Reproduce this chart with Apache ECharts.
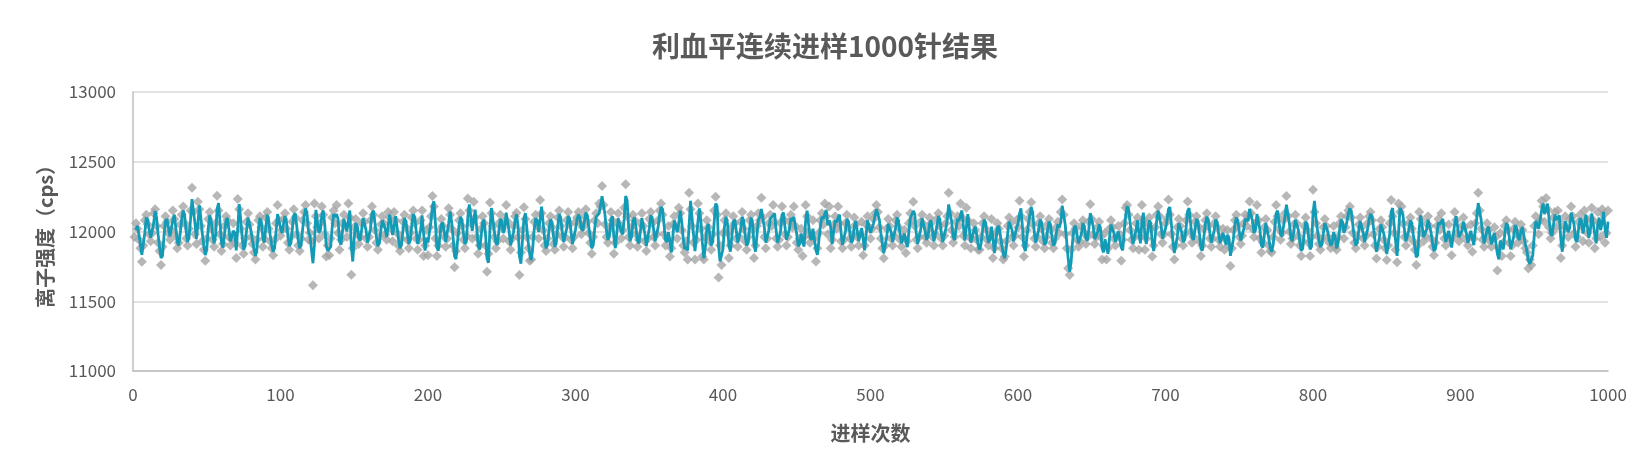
<!DOCTYPE html>
<html>
<head>
<meta charset="utf-8">
<script src="https://cdn.jsdelivr.net/npm/echarts@6/dist/echarts.min.js"></script>
<style>
  body { margin: 0; background: #fff; }
  #main { width: 1650px; height: 474px; }
</style>
</head>
<body>
<div id="main"></div>
<script>
// 离子强度 (cps)，每组100针
var run1 = [
  11960, 12060, 12020, 11940, 11880, 11784, 11900, 12080, 12120, 12050,
  11980, 11930, 11990, 12130, 12160, 12040, 11920, 11860, 11760, 11890,
  12040, 12110, 12070, 11990, 11940, 12010, 12150, 12090, 11970, 11880,
  11920, 12050, 12120, 12180, 12060, 11950, 11900, 12020, 12150, 12314,
  12140, 11980, 11910, 12214, 12160, 12040, 11930, 11870, 11791, 11950,
  12090, 12140, 12020, 11940, 11890, 12060, 12257, 12150, 11980, 11860,
  11910, 12040, 12110, 12080, 11960, 11900, 11950, 12060, 11920, 11810,
  12233, 12160, 12020, 11900, 11840, 11950, 12070, 12130, 12050, 11960,
  11910, 11850, 11800, 11940, 12080, 12110, 12030, 11890, 11950, 12100,
  12140, 12020, 11930, 11880, 11830, 11940, 12060, 12190, 12080, 11970
];
var run2 = [
  12010, 12090, 12130, 12020, 11920, 11870, 11960, 12070, 12160, 12100,
  11980, 11900, 11860, 11950, 12080, 12140, 12190, 12060, 11940, 11990,
  11930, 11615, 12200, 12110, 12030, 11950, 12060, 12180, 12120, 11980,
  11820, 11900, 11830, 11950, 12100, 12150, 12060, 12190, 11990, 11870,
  11940, 12060, 12120, 12040, 11960, 12200, 12100, 11690, 11880, 12030,
  12090, 11990, 11910, 11960, 12060, 12130, 12070, 11950, 11890, 11960,
  12080, 12180, 12120, 12010, 11920, 11870, 11960, 12050, 12110, 12060,
  11980, 11940, 12140, 12100, 12020, 11930, 12140, 12080, 11990, 11900,
  11860, 11950, 12070, 12120, 12030, 11940, 11880, 11990, 12100, 12150,
  12060, 11950, 11870, 11940, 12080, 12150, 11825, 11900, 12010, 11830
];
var run3 = [
  12030, 12110, 12254, 12180, 11950, 11825, 11900, 12010, 12090, 12040,
  11960, 11890, 11950, 12166, 12120, 12020, 11900, 11743, 11860, 11990,
  12080, 12130, 12040, 11940, 11880, 11970, 12237, 12150, 12060, 11950,
  12214, 12100, 11960, 11840, 11900, 12020, 12110, 12060, 11900, 11712,
  11840, 12207, 12130, 12040, 11960, 11880, 11930, 12060, 12120, 12030,
  11950, 12080, 12190, 12070, 11930, 11870, 11950, 12040, 12110, 12135,
  11960, 11688, 11850, 12010, 12173, 12090, 11960, 11880, 11790, 11800,
  11960, 12070, 12120, 12040, 11950, 12225, 12130, 12010, 11900, 11860,
  11950, 12060, 12110, 12030, 11910, 11870, 11980, 12100, 12150, 12040,
  11960, 11890, 11960, 12080, 12140, 12050, 11940, 11880, 11960, 12070
];
var run4 = [
  12100, 12140, 12060, 11980, 12030, 12110, 12160, 12070, 11990, 11920,
  11840, 11960, 12080, 12130, 12060, 12200, 12180, 12326, 12190, 12050,
  11960, 11920, 12020, 12140, 12080, 11840, 11920, 12060, 12130, 12050,
  11950, 12010, 12170, 12338, 12110, 11960, 11900, 12030, 12120, 12080,
  11980, 11890, 11940, 12060, 12130, 12040, 11930, 11860, 11950, 12090,
  12140, 12060, 11960, 11900, 11980, 12080, 12150, 12200, 12120, 11980,
  11900, 11950, 12040, 11820, 11880, 12050, 12110, 12040, 11950, 12170,
  12130, 12010, 11900, 11850, 11930, 11800, 12278, 12160, 12040, 11920,
  11800, 11940, 12200, 12130, 12020, 11820, 11800, 11960, 12080, 12030,
  11930, 11870, 11980, 12150, 12250, 12120, 11671, 11900, 11760, 11990
];
var run5 = [
  12080, 12130, 11990, 11810, 11900, 12030, 12110, 12060, 11950, 11890,
  11960, 12070, 12140, 12020, 11930, 11870, 11960, 12080, 12120, 12010,
  11810, 11900, 12040, 12130, 12080, 12242, 12100, 11960, 11880, 11950,
  12060, 12120, 12040, 12190, 12070, 11950, 11890, 11940, 12060, 12180,
  12090, 11980, 11900, 11960, 12070, 12120, 12030, 12180, 12040, 11920,
  11870, 11950, 12020, 11825, 11960, 12190, 12110, 12000, 11920, 11960,
  12080, 11950, 11785, 11880, 11990, 12080, 12130, 12050, 12200, 12110,
  11980, 12180, 11880, 11940, 12050, 12110, 12020, 12180, 12060, 11930,
  11880, 11940, 12060, 12120, 12030, 11950, 11890, 11980, 12100, 12050,
  11960, 11900, 11980, 12070, 11830, 11900, 12050, 12110, 12030, 11950
];
var run6 = [
  12020, 12090, 12130, 12190, 12140, 12030, 11950, 11880, 11808, 11900,
  12020, 12090, 12040, 11950, 11900, 11970, 12080, 12120, 12030, 11940,
  11890, 11960, 12010, 11845, 11930, 12060, 12130, 12080, 12214, 12040,
  11940, 11880, 11960, 12070, 12120, 12050, 11960, 11920, 12010, 12100,
  12060, 11960, 11900, 11980, 12090, 12130, 12040, 11950, 11900, 11970,
  12060, 12110, 12278, 12130, 12010, 11920, 11960, 12070, 12110, 12040,
  12200, 12100, 11970, 11900, 12170, 12080, 11960, 11880, 11950, 12060,
  12010, 11940, 11870, 11870, 11960, 12060, 12110, 12020, 11940, 11900,
  11980, 12090, 11810, 11880, 11990, 12060, 12020, 11930, 11880, 11800,
  11820, 11930, 12040, 12100, 12060, 11960, 11900, 11970, 12080, 12030
];
var run7 = [
  12220, 12110, 11960, 11820, 11900, 12010, 12090, 12140, 12210, 12050,
  11950, 11890, 11960, 12060, 12110, 12020, 11930, 11880, 11960, 12050,
  12090, 12010, 11920, 11880, 11950, 12030, 12070, 11990, 12140, 12230,
  12120, 11980, 11880, 11736, 11688, 11870, 11990, 12060, 12020, 11940,
  11890, 11930, 12040, 12080, 11990, 11910, 11960, 12070, 12195, 12090,
  11980, 11910, 11960, 12030, 12070, 11960, 11800, 11900, 11990, 11800,
  11880, 12020, 12080, 12030, 11950, 11900, 11960, 12040, 11980, 11790,
  11940, 12060, 12170, 12190, 12120, 12010, 11940, 11880, 11960, 12060,
  12100, 11870, 11960, 12190, 12080, 11870, 11950, 12060, 12100, 12020,
  11820, 11900, 12030, 12120, 12180, 12110, 11980, 11920, 11980, 12060
];
var run8 = [
  12090, 12230, 12120, 11980, 11890, 11800, 11900, 12030, 12090, 12040,
  11950, 11900, 11980, 12080, 12215, 12120, 12000, 11920, 11960, 12070,
  12110, 12040, 11930, 11825, 11900, 12020, 12080, 12130, 12040, 11950,
  11890, 11950, 12060, 12110, 12030, 11940, 11890, 11960, 12020, 11870,
  11940, 12010, 11900, 11752, 11880, 12010, 12080, 12120, 12040, 11960,
  11910, 11970, 12060, 12120, 12040, 12110, 12215, 12130, 12020, 11960,
  12060, 12190, 12080, 11950, 11850, 11920, 12030, 12090, 12010, 11900,
  11860, 11850, 11960, 12070, 12190, 12110, 12020, 11940, 11990, 12080,
  12130, 12255, 12110, 12000, 11910, 11950, 12050, 12120, 12060, 11970,
  11900, 11825, 11930, 12040, 12100, 12010, 11920, 11825, 11960, 12300
];
var run9 = [
  12140, 12060, 11970, 11910, 11870, 11940, 12030, 12090, 12040, 11960,
  11920, 11880, 11950, 12040, 11890, 11870, 11960, 12060, 12110, 12030,
  11950, 12030, 12110, 12150, 12180, 12100, 11990, 11920, 11880, 11960,
  12050, 12100, 12030, 11950, 11900, 11970, 12060, 12110, 12140, 12080,
  11980, 11900, 11807, 11890, 12020, 12080, 12030, 11940, 11880, 11795,
  11900, 12060, 12225, 12110, 11990, 11870, 11780, 12200, 12140, 12180,
  12060, 11960, 11900, 11960, 12060, 12100, 12020, 11930, 11870, 11760,
  11900, 12140, 12090, 11990, 11930, 11970, 12060, 12110, 12040, 11950,
  11890, 11830, 11920, 12040, 12090, 12010, 12130, 12050, 11950, 11900,
  11960, 12050, 11940, 11830, 11960, 12140, 12080, 11990, 11930, 11970
];
var run10 = [
  12040, 12100, 12030, 11940, 11900, 11960, 12050, 11855, 11950, 12060,
  12130, 12278, 12150, 12020, 11940, 11890, 11960, 12060, 12010, 11930,
  11890, 11950, 12030, 11960, 11720, 11880, 11990, 11825, 11920, 12040,
  12080, 12010, 11920, 11825, 11900, 12020, 12070, 11990, 11920, 11960,
  12050, 12010, 11930, 11880, 11850, 11735, 11800, 11760, 11900, 12040,
  12110, 12060, 11980, 12080, 12220, 12180, 12070, 12240, 12160, 12030,
  11950, 11990, 12100, 12140, 12030, 12150, 12080, 11810, 11900, 12040,
  12110, 12030, 11960, 12090, 12180, 12110, 11990, 11890, 11960, 12070,
  12120, 12040, 11930, 12150, 12090, 11990, 11920, 12090, 12170, 12080,
  11880, 11950, 12140, 12060, 11960, 12160, 12120, 11920, 11990, 12150
];

var xTicks = [0, 1000, 100];        // min, max, interval
var yTicks = [11000, 13000, 500];

var allRuns = run1.concat(run2, run3, run4, run5, run6, run7, run8, run9, run10);

// 散点：第 i 针
var pointData = [];
for (var i = 0; i < allRuns.length; i++) {
  pointData.push([i + 1, allRuns[i]]);
}
// 趋势线：2 周期移动平均
var avgData = [];
for (var j = 1; j < allRuns.length; j++) {
  avgData.push([j + 1, (allRuns[j - 1] + allRuns[j]) / 2]);
}

var font = "'Microsoft YaHei','Noto Sans CJK SC',sans-serif";
var grey = '#595959';

function plain(v) { return String(v); }

var myChart = echarts.init(document.getElementById('main'));
var option = {
  animation: false,
  title: {
    text: '利血平连续进样1000针结果',
    left: 'center',
    top: 27,
    textStyle: { color: grey, fontSize: 28, fontWeight: 'bold', fontFamily: font }
  },
  grid: { left: 133, right: 42, top: 92, bottom: 103 },
  xAxis: {
    type: 'value',
    min: xTicks[0], max: xTicks[1], interval: xTicks[2],
    name: '进样次数',
    nameLocation: 'middle',
    nameGap: 52,
    nameTextStyle: { color: grey, fontSize: 20, fontWeight: 'bold', fontFamily: font },
    axisLine: { show: true, lineStyle: { color: '#bfbfbf', width: 1.5 } },
    axisTick: { show: false },
    splitLine: { show: false },
    axisLabel: { color: grey, fontSize: 17, margin: 15, fontFamily: font, formatter: plain }
  },
  yAxis: {
    type: 'value',
    min: yTicks[0], max: yTicks[1], interval: yTicks[2],
    name: '离子强度（cps）',
    nameLocation: 'middle',
    nameRotate: 90,
    nameGap: 78,
    nameTextStyle: { color: grey, fontSize: 20, fontWeight: 'bold', fontFamily: font },
    axisLine: { show: true, lineStyle: { color: '#bfbfbf', width: 1.5 } },
    axisTick: { show: false },
    splitLine: { show: true, lineStyle: { color: '#d9d9d9', width: 1.5 } },
    axisLabel: { color: grey, fontSize: 17, margin: 17, fontFamily: font, formatter: plain }
  },
  series: [
    {
      type: 'scatter',
      data: pointData,
      symbol: 'diamond',
      symbolSize: 10,
      itemStyle: { color: '#a5a5a5' },
      z: 2
    },
    {
      type: 'line',
      data: avgData,
      showSymbol: false,
      lineStyle: { color: '#129bb6', width: 2.8 },
      z: 3
    }
  ]
};
myChart.setOption(option);
</script>
</body>
</html>
